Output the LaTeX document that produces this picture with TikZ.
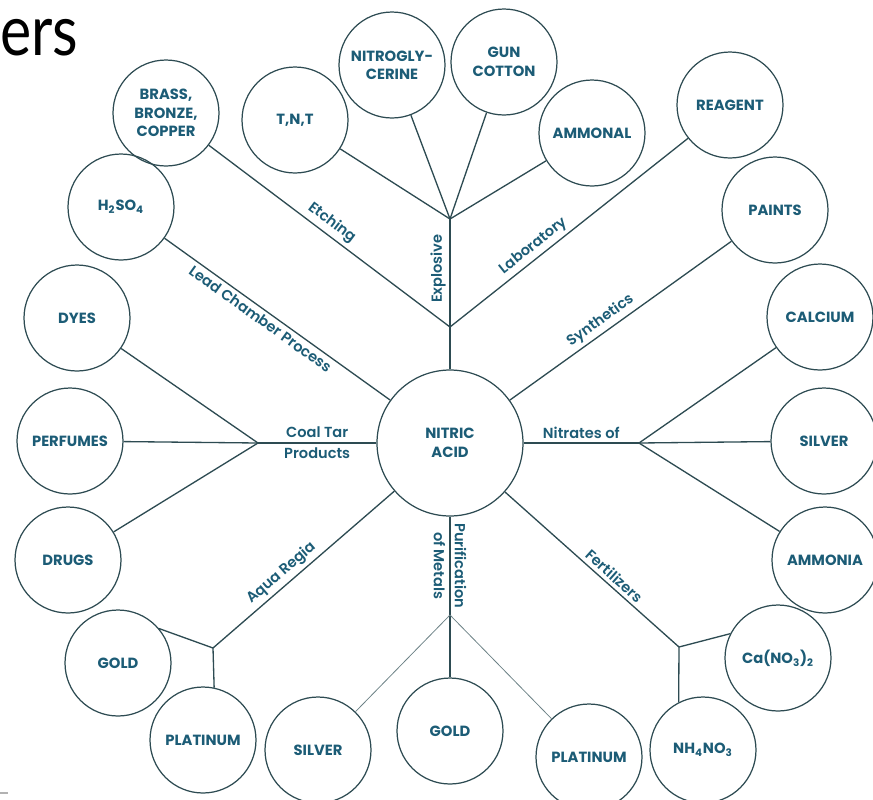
\documentclass[tikz,border=0pt]{standalone}
\usepackage{fontspec}
\setmainfont{Poppins}
\newfontfamily\titlefont{Lato}
\newfontfamily\labelfont{Poppins SemiBold}
\usepackage{xcolor}
\usepackage{tikz}
\usetikzlibrary{positioning}
\definecolor{inkteal}{RGB}{28,92,118}
\definecolor{wire}{RGB}{45,75,82}

\begin{document}
\begin{tikzpicture}[
  x=0.02cm, y=-0.02cm,
  bubble/.style={circle, draw=wire, line width=0.7pt, minimum size=2.12cm,
                 inner sep=0pt, align=center, text=inkteal,
                 font=\fontsize{8.4}{10.5}\selectfont\bfseries},
  hub/.style={bubble, minimum size=2.92cm},
  branch/.style={draw=wire, line width=0.75pt},
  fine/.style={draw=wire!70, line width=0.45pt},
  lbl/.style={text=inkteal, font=\labelfont\fontsize{8.3}{12}\selectfont, inner sep=2pt}
]
\useasboundingbox (0,0) rectangle (873,799);
\node[anchor=base west, inner sep=0pt, font=\titlefont\fontsize{40}{40}\selectfont]
  (title) at (0,55) {\scalebox{0.84}[1]{ers}};

\node[hub] (acid) at (450,443) {NITRIC\\ACID};
\node[bubble] (brass) at (166,113) {BRASS,\\BRONZE,\\COPPER};
\node[bubble] (tnt) at (295,120) {T,N,T};
\node[bubble] (nitro) at (392,65) {NITROGLY-\\CERINE};
\node[bubble] (gun) at (504,62) {GUN\\COTTON};
\node[bubble] (ammonal) at (592,133) {AMMONAL};
\node[bubble] (reagent) at (730,105) {REAGENT};
\node[bubble] (paints) at (775,210) {PAINTS};
\node[bubble] (h2so4) at (121,207) {H\textsubscript{2}SO\textsubscript{4}};
\node[bubble] (dyes) at (77,318) {DYES};
\node[bubble] (perfumes) at (70,441) {PERFUMES};
\node[bubble] (drugs) at (68,560) {DRUGS};
\node[bubble] (calcium) at (820,317) {CALCIUM};
\node[bubble] (silverr) at (824,441) {SILVER};
\node[bubble] (ammonia) at (825,560) {AMMONIA};
\node[bubble] (goldl) at (118,663) {GOLD};
\node[bubble] (platl) at (203,740) {PLATINUM};
\node[bubble] (silverb) at (318,750) {SILVER};
\node[bubble] (goldm) at (450,731) {GOLD};
\node[bubble] (platr) at (589,757) {PLATINUM};
\node[bubble] (nh) at (703,750) {NH\textsubscript{4}NO\textsubscript{3}};
\node[bubble] (ca) at (778,658) {Ca(NO\textsubscript{3})\textsubscript{2}};

\coordinate (expj) at (450,219);
\coordinate (lowj) at (450,327);
\coordinate (coalj) at (258,443);
\coordinate (aqj) at (213,648);
\coordinate (pj) at (450,615);
\coordinate (fj) at (679,647);
\coordinate (nitj) at (639,443);

\draw[branch] (acid.north) -- node[lbl, pos=0.67, rotate=90, above] {Explosive} (expj);
\draw[branch] (expj) -- (tnt);
\draw[branch] (expj) -- (nitro);
\draw[branch] (expj) -- (gun);
\draw[branch] (expj) -- (ammonal);
\draw[branch] (brass) -- node[lbl, pos=0.48, sloped, above] {Etching} (lowj);
\draw[branch] (lowj) -- node[lbl, pos=0.38, sloped, above] {Laboratory} (reagent);
\draw[branch] (h2so4) -- node[lbl, pos=0.45, sloped, below] {Lead Chamber Process} (acid);
\draw[branch] (acid) -- node[lbl, pos=0.44, sloped, above] {Synthetics} (paints);
\draw[branch] (acid) -- node[lbl, midway, align=center] {Coal Tar\\Products} (coalj);
\draw[branch] (coalj) -- (dyes);
\draw[branch] (coalj) -- (perfumes);
\draw[branch] (coalj) -- (drugs);
\draw[branch] (aqj) -- node[lbl, pos=0.42, sloped, above] {Aqua Regia} (acid);
\draw[branch] (aqj) -- (goldl.40);
\draw[branch] (aqj) -- (platl.78);
\draw[branch] (acid.south) -- node[lbl, midway, rotate=-90, align=center] {Purification\\of Metals} (pj);
\draw[branch] (pj) -- (goldm);
\draw[fine] (pj) -- (silverb);
\draw[fine] (pj) -- (platr);
\draw[branch] (acid) -- node[lbl, pos=0.59, sloped, above] {Fertilizers} (fj);
\draw[branch] (fj) -- (ca.153);
\draw[branch] (fj) -- (nh.117);
\draw[branch] (acid) -- node[lbl, midway, above] {Nitrates of} (nitj);
\draw[branch] (nitj) -- (calcium);
\draw[branch] (nitj) -- (silverr);
\draw[branch] (nitj) -- (ammonia);
\fill[gray!60] (0,792) rectangle (8,794);
\end{tikzpicture}
\end{document}
